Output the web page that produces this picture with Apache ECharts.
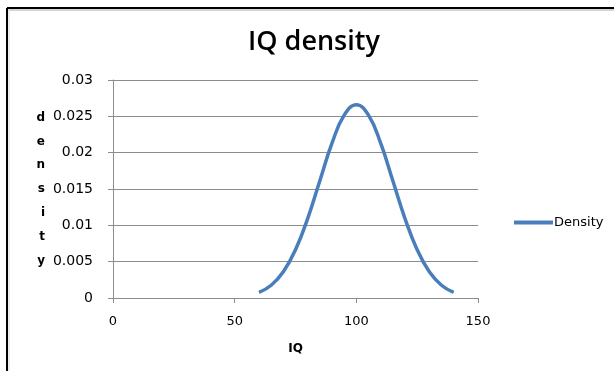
<!DOCTYPE html>
<html>
<head>
<meta charset="utf-8">
<script src="https://cdn.jsdelivr.net/npm/echarts@6/dist/echarts.min.js"></script>
<style>
  html, body { margin: 0; padding: 0; background: #fff; }
  #chart { width: 614px; height: 371px; }
</style>
</head>
<body>
<div id="chart"></div>
<script>
// IQ values and the density
var iq = [60, 65, 70, 75, 80, 85, 90, 95, 100, 105, 110, 115, 120, 125, 130, 135, 140];
var density = [0.00076, 0.00175, 0.0036, 0.00663, 0.01093, 0.01613, 0.0213, 0.02516, 0.0266,
  0.02516, 0.0213, 0.01613, 0.01093, 0.00663, 0.0036, 0.00175, 0.00076];
var yTicks = [0, 0.005, 0.01, 0.015, 0.02, 0.025, 0.03];

var points = [];
for (var i = 0; i < iq.length; i++) {
  points.push([iq[i], density[i]]);
}

var chart = echarts.init(document.getElementById('chart'));
chart.setOption({
  animation: false,
  title: {
    text: 'IQ density',
    left: 309,
    top: 24,
    textAlign: 'center',
    textStyle: { fontFamily: 'Open Sans', fontSize: 27, fontWeight: 600, color: '#000' }
  },
  legend: {
    data: ['Density'],
    left: 509,
    top: 211,
    itemWidth: 39,
    itemHeight: 4,
    itemGap: 2,
    icon: 'rect',
    textStyle: { fontFamily: 'DejaVu Sans', fontSize: 13, color: '#000', padding: [0, 0, 0, -4] }
  },
  grid: { left: 113, right: 136, top: 80, bottom: 73 },
  xAxis: {
    type: 'value',
    min: 0,
    max: 150,
    interval: 50,
    name: 'IQ',
    nameLocation: 'middle',
    nameGap: 45,
    nameTextStyle: { fontFamily: 'DejaVu Sans', fontWeight: 'bold', fontSize: 12, color: '#000' },
    axisLine: { lineStyle: { color: '#8c8c8c' } },
    axisTick: { show: true, length: 5, lineStyle: { color: '#8c8c8c' } },
    axisLabel: { fontFamily: 'DejaVu Sans', fontSize: 13, color: '#000', margin: 17 },
    splitLine: { show: false }
  },
  yAxis: {
    type: 'value',
    min: yTicks[0],
    max: yTicks[yTicks.length - 1],
    interval: 0.005,
    name: 'd\ne\nn\ns\ni\nt\ny',
    nameLocation: 'middle',
    nameGap: 68,
    nameRotate: 0,
    nameTextStyle: { fontFamily: 'DejaVu Sans', fontWeight: 'bold', fontSize: 12, color: '#000', lineHeight: 23.8, padding: [7, 0, 0, 0] },
    axisLine: { show: true, lineStyle: { color: '#8c8c8c' } },
    axisTick: { show: true, length: 5, inside: false, lineStyle: { color: '#8c8c8c' } },
    axisLabel: { fontFamily: 'DejaVu Sans', fontSize: 14, color: '#000', margin: 20 },
    splitLine: { lineStyle: { color: '#8c8c8c' } }
  },
  series: [
    {
      name: 'Density',
      type: 'line',
      data: points,
      smooth: 0.45,
      showSymbol: false,
      lineStyle: { color: '#4a7ebb', width: 3.5 },
      itemStyle: { color: '#4a7ebb' }
    }
  ],
  graphic: [
    { type: 'line', shape: { x1: 7, y1: 8, x2: 614, y2: 8 }, style: { stroke: '#000', lineWidth: 2 } },
    { type: 'line', shape: { x1: 7, y1: 8, x2: 7, y2: 371 }, style: { stroke: '#000', lineWidth: 2 } },
    { type: 'line', shape: { x1: 8.5, y1: 10, x2: 614, y2: 10 }, style: { stroke: '#aaa', lineWidth: 1 } },
    { type: 'line', shape: { x1: 9, y1: 10, x2: 9, y2: 371 }, style: { stroke: '#ddd', lineWidth: 1 } }
  ]
});
</script>
</body>
</html>
